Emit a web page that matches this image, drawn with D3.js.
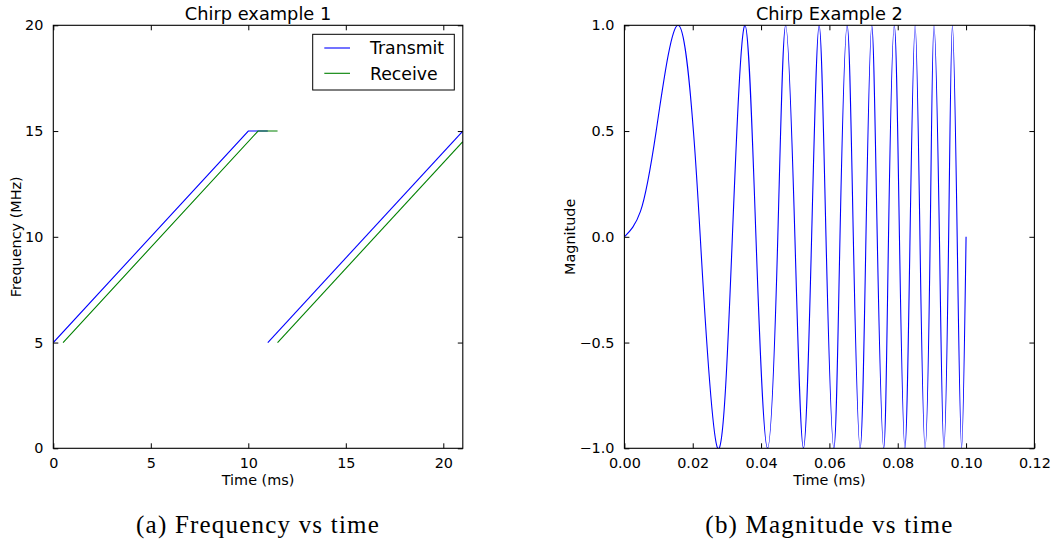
<!DOCTYPE html>
<html><head><meta charset="utf-8">
<script src="https://cdn.jsdelivr.net/npm/d3@7"></script>
<style>
body{margin:0;background:#fff}
svg text{font-family:"DejaVu Sans",sans-serif;fill:#000}
</style>
</head><body>
<svg id="c" width="1057" height="546"></svg>
<script>
// ---------- data ----------
const leftXTicks = [0, 5, 10, 15, 20];
const leftYTicks = [0, 5, 10, 15, 20];
const rightXTicks = [0, 0.02, 0.04, 0.06, 0.08, 0.10, 0.12];
const rightYTicks = [-1, -0.5, 0, 0.5, 1];

const seriesNames = ["Transmit", "Receive"];
// Transmit (two segments)
const transmitTime1 = [0, 10, 11];
const transmitFreq1 = [5, 15, 15];
const transmitTime2 = [11, 21];
const transmitFreq2 = [5, 15];
// Receive (two segments)
const receiveTime1 = [0.5, 10.5, 11.5];
const receiveFreq1 = [5, 15, 15];
const receiveTime2 = [11.5, 21];
const receiveFreq2 = [5, 14.5];

// Chirp example 2: points (first arc, then extrema and zero crossings)
const chirpTime = [0, 0.0047, 0.0093, 0.0158, 0.0202, 0.0222, 0.0273, 0.0316, 0.0353, 0.0385,
  0.0419, 0.0449, 0.0472, 0.0499, 0.0524, 0.0548, 0.0570, 0.0590, 0.0613, 0.0631,
  0.0652, 0.0670, 0.0690, 0.0707, 0.0724, 0.0740, 0.0759, 0.0773, 0.0790, 0.0805,
  0.0821, 0.0836, 0.0851, 0.0865, 0.0880, 0.0895, 0.0906, 0.0922, 0.0935, 0.0949,
  0.0960, 0.0974, 0.0987, 0.1000];
const chirpMag = [0, 0.12, 0.5, 1, 0.5, 0, -1, 0, 1, 0,
  -1, 0, 1, 0, -1, 0, 1, 0, -1, 0,
  1, 0, -1, 0, 1, 0, -1, 0, 1, 0,
  -1, 0, 1, 0, -1, 0, 1, 0, -1, 0,
  1, 0, -1, 0];

const titles = ["Chirp example 1", "Chirp Example 2"];
const xLabels = ["Time (ms)", "Time (ms)"];
const yLabels = ["Frequency (MHz)", "Magnitude"];
const captions = ["(a) Frequency vs time", "(b) Magnitude vs time"];

// ---------- drawing ----------
const svg = d3.select("#c");
const BLUE = "#0000ff", GREEN = "#008000";
const plotTop = 25.3, plotBottom = 448.3;

function frame(g, x, y, xTicks, yTicks, xFmt, yFmt) {
  const [x0, x1] = x.range();
  const axB = g.append("g").attr("transform", `translate(0,${plotBottom})`)
    .call(d3.axisBottom(x).tickValues(xTicks).tickFormat(xFmt).tickSizeInner(-5).tickSizeOuter(0).tickPadding(9));
  const axT = g.append("g").attr("transform", `translate(0,${plotTop})`)
    .call(d3.axisTop(x).tickValues(xTicks).tickFormat("").tickSizeInner(-5).tickSizeOuter(0));
  const axL = g.append("g").attr("transform", `translate(${x0},0)`)
    .call(d3.axisLeft(y).tickValues(yTicks).tickFormat(yFmt).tickSizeInner(-5).tickSizeOuter(0).tickPadding(10));
  const axR = g.append("g").attr("transform", `translate(${x1},0)`)
    .call(d3.axisRight(y).tickValues(yTicks).tickFormat("").tickSizeInner(-5).tickSizeOuter(0));
  [axB, axT, axL, axR].forEach(a => {
    a.select(".domain").remove();
    a.selectAll("line").attr("stroke", "#000").attr("stroke-width", 1);
    a.selectAll("text").attr("font-family", "DejaVu Sans").attr("font-size", "14.4px").attr("fill", "#000");
  });
}

function panel(i, x, y, xTicks, yTicks, xFmt, yFmt, draw) {
  const g = svg.append("g");
  const [x0, x1] = x.range();
  const cid = "clip" + i;
  svg.append("clipPath").attr("id", cid).append("rect")
    .attr("x", x0).attr("y", plotTop).attr("width", x1 - x0).attr("height", plotBottom - plotTop);
  const plot = g.append("g").attr("clip-path", `url(#${cid})`);
  draw(plot);
  frame(g, x, y, xTicks, yTicks, xFmt, yFmt);
  g.append("rect").attr("x", x0).attr("y", plotTop).attr("width", x1 - x0).attr("height", plotBottom - plotTop)
    .attr("fill", "none").attr("stroke", "#000").attr("stroke-width", 1.1);
  const cx = (x0 + x1) / 2;
  g.append("text").attr("x", cx).attr("y", 20).attr("text-anchor", "middle")
    .attr("font-size", "17.8px").text(titles[i]);
  g.append("text").attr("x", cx).attr("y", 484.5).attr("text-anchor", "middle")
    .attr("font-size", "14.4px").text(xLabels[i]);
  const ly = i === 0 ? 20.5 : 575;
  g.append("text").attr("transform", `translate(${ly},${(plotTop + plotBottom) / 2}) rotate(-90)`)
    .attr("text-anchor", "middle").attr("font-size", "14.4px").text(yLabels[i]);
  g.append("text").attr("x", cx).attr("y", 533).attr("text-anchor", "middle")
    .style("font-family", "'Liberation Serif', serif").attr("font-size", "25px")
    .attr("letter-spacing", "1.2px").text(captions[i]);
  return g;
}

// Left panel
const xL = d3.scaleLinear().domain([0, 21]).range([53.3, 462.8]);
const yL = d3.scaleLinear().domain([0, 20]).range([plotBottom, plotTop]);
const lineL = d3.line().x(d => xL(d[0])).y(d => yL(d[1]));
const zip = (a, b) => a.map((v, k) => [v, b[k]]);

const gL = panel(0, xL, yL, leftXTicks, leftYTicks, d3.format("d"), d3.format("d"), plot => {
  [[transmitTime1, transmitFreq1, BLUE], [transmitTime2, transmitFreq2, BLUE],
   [receiveTime1, receiveFreq1, GREEN], [receiveTime2, receiveFreq2, GREEN]]
    .forEach(([t, f, c]) => plot.append("path").attr("d", lineL(zip(t, f)))
      .attr("fill", "none").attr("stroke", c).attr("stroke-width", 1.1));
});

// Legend
const leg = gL.append("g");
leg.append("rect").attr("x", 312.7).attr("y", 34.3).attr("width", 141.6).attr("height", 55.7)
  .attr("fill", "#fff").attr("stroke", "#000").attr("stroke-width", 1);
[BLUE, GREEN].forEach((c, k) => {
  const yy = 48 + k * 25.3;
  leg.append("line").attr("x1", 324.3).attr("x2", 350).attr("y1", yy).attr("y2", yy)
    .attr("stroke", c).attr("stroke-width", 1.1);
  leg.append("text").attr("x", 370).attr("y", yy + 6.3).attr("font-size", "17.3px").text(seriesNames[k]);
});

// Right panel
const xR = d3.scaleLinear().domain([0, 0.12]).range([624.4, 1034.4]);
const yR = d3.scaleLinear().domain([-1, 1]).range([plotBottom, plotTop]);
const lineR = d3.line().x(d => xR(d[0])).y(d => yR(d[1])).curve(d3.curveNatural);
panel(1, xR, yR, rightXTicks, rightYTicks, d3.format(".2f"), d3.format(".1f"), plot => {
  plot.append("path").attr("d", lineR(zip(chirpTime, chirpMag)))
    .attr("fill", "none").attr("stroke", BLUE).attr("stroke-width", 1.1);
});
</script>
</body></html>
